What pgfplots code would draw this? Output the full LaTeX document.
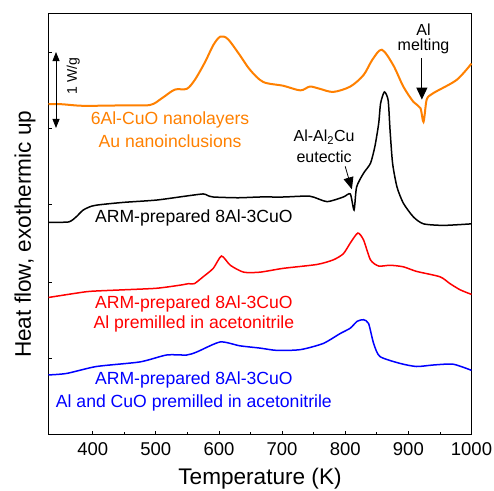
\documentclass[border=0pt]{standalone}
\usepackage{fontspec}
\setmainfont{Liberation Sans}
\usepackage{pgfplots}
\pgfplotsset{compat=1.18}
\usetikzlibrary{arrows.meta}
\definecolor{corange}{RGB}{255,128,0}
\begin{document}
\begin{tikzpicture}[x=1pt,y=1pt]
\useasboundingbox (0,0) rectangle (494,490);
\begin{axis}[
  at={(48.5pt,56pt)}, anchor=south west,
  scale only axis, width=423pt, height=420.7pt,
  xmin=330, xmax=1000, ymin=0, ymax=5.485,
  xtick={400,500,...,1000}, minor x tick num=1,
  ytick={0.98,1.98,2.99,3.99,4.98}, yticklabels={},
  tick align=inside, tick pos=left,
  major tick length=3.5pt, minor tick length=2pt,
  axis line style={line width=0.9pt},
  every tick/.style={line width=0.8pt, black},
  tick label style={font=\fontsize{18.5}{20}\selectfont},
  xticklabel style={yshift=-5pt},
  /pgf/number format/assume math mode=true,
  /pgf/number format/1000 sep={},
  xlabel={Temperature (K)},
  xlabel style={font=\fontsize{22.6}{24}\selectfont, at={(axis description cs:0.5,-0.119)}, anchor=base},
  ylabel={Heat flow, exothermic up},
  ylabel style={font=\fontsize{22.6}{24}\selectfont, at={(axis description cs:-0.0556,0.475)}, anchor=center},
  clip=false,
]
% orange
\addplot[corange, line width=2pt, smooth, tension=0.5] coordinates {
(330,4.30) (350,4.30) (380,4.28) (412,4.28) (450,4.285) (491,4.29) (510,4.38) (530,4.49) (549,4.50) (562,4.62) (578,4.85) (591,5.07) (602,5.18) (614,5.15) (633,4.94) (649,4.75) (670,4.59) (702,4.54) (729,4.48) (744,4.53) (760,4.50) (781,4.46) (808,4.53) (829,4.68) (843,4.88) (858,5.01) (876,4.81) (892,4.53) (908,4.33) (919,4.25) (924,4.07) (929,4.36) (937,4.43) (945,4.47) (977,4.62) (1000,4.83)
};
% black
\addplot[black, line width=1.5pt, smooth, tension=0.4] coordinates {
(330,2.76) (350,2.76) (362,2.765) (368,2.79) (375,2.84) (385,2.92) (398,2.97) (412,2.99) (449,3.02) (501,3.05) (546,3.10) (575,3.13) (582,3.11) (591,3.09) (630,3.08) (665,3.09) (702,3.09) (744,3.10) (771,3.03) (797,3.09) (808,3.13) (814,2.92) (818,3.22) (829,3.40) (840,3.53) (847,3.75) (853,4.05) (856,4.31) (862,4.46) (868,4.35) (871,3.96) (875,3.53) (882,3.22) (892,3.01) (908,2.83) (924,2.74) (956,2.72) (1000,2.74)
};
% red
\addplot[red, line width=1.5pt, smooth, tension=0.4] coordinates {
(330,1.78) (369,1.83) (396,1.86) (449,1.88) (501,1.90) (538,1.94) (552,1.96) (561,1.96) (575,2.05) (591,2.16) (604,2.32) (618,2.20) (639,2.11) (665,2.11) (702,2.16) (755,2.21) (781,2.27) (797,2.35) (808,2.49) (820,2.62) (829,2.53) (840,2.27) (853,2.19) (871,2.20) (892,2.18) (913,2.12) (950,2.05) (966,1.96) (982,1.88) (1000,1.82)
};
% blue
\addplot[blue, line width=1.5pt, smooth, tension=0.4] coordinates {
(330,0.77) (359,0.79) (406,0.88) (475,0.94) (517,1.03) (549,1.03) (565,1.07) (602,1.20) (633,1.15) (665,1.12) (692,1.09) (729,1.10) (765,1.18) (792,1.31) (808,1.38) (819,1.47) (829,1.49) (837,1.44) (845,1.18) (855,1.01) (887,0.92) (913,0.88) (940,0.90) (971,0.91) (1000,0.83)
};
% labels
\node[corange, font=\fontsize{17.6}{19}\selectfont] at (axis cs:522.5,4.09) {6Al-CuO nanolayers};
\node[corange, font=\fontsize{17.6}{19}\selectfont] at (axis cs:522.5,3.82) {Au nanoinclusions};
\node[black, font=\fontsize{17.6}{19}\selectfont] at (axis cs:560.3,2.82) {ARM-prepared 8Al-3CuO};
\node[red, font=\fontsize{17.6}{19}\selectfont] at (axis cs:560.3,1.70) {ARM-prepared 8Al-3CuO};
\node[red, font=\fontsize{17.6}{19}\selectfont] at (axis cs:560.3,1.43) {Al premilled in acetonitrile};
\node[blue, font=\fontsize{17.6}{19}\selectfont] at (axis cs:560.3,0.70) {ARM-prepared 8Al-3CuO};
\node[blue, font=\fontsize{17.6}{19}\selectfont] at (axis cs:560.3,0.41) {Al and CuO premilled in acetonitrile};
% annotations
\node[font=\fontsize{16}{18}\selectfont] at (axis cs:924,5.27) {Al};
\node[font=\fontsize{16}{18}\selectfont] at (axis cs:924,5.05) {melting};
\draw[line width=1pt, -{Triangle[width=11pt,length=12pt]}] (axis cs:921.4,4.90) -- (axis cs:921.4,4.36);
\node[font=\fontsize{16}{18}\selectfont] at (axis cs:766.6,3.87) {Al-Al\textsubscript{2}Cu};
\node[font=\fontsize{16}{18}\selectfont] at (axis cs:766.6,3.62) {eutectic};
\draw[line width=0.8pt, -{Triangle[width=10pt,length=12pt]}] (axis cs:799.9,3.49) -- (axis cs:810.5,3.19);
\draw[line width=0.8pt, {Triangle[width=7pt,length=9pt]}-{Triangle[width=7pt,length=9pt]}] (axis cs:341.9,4.98) -- (axis cs:341.9,3.99);
\node[rotate=90, font=\fontsize{14}{16}\selectfont] at (axis cs:369.3,4.67) {1 W/g};
\end{axis}
\end{tikzpicture}
\end{document}
